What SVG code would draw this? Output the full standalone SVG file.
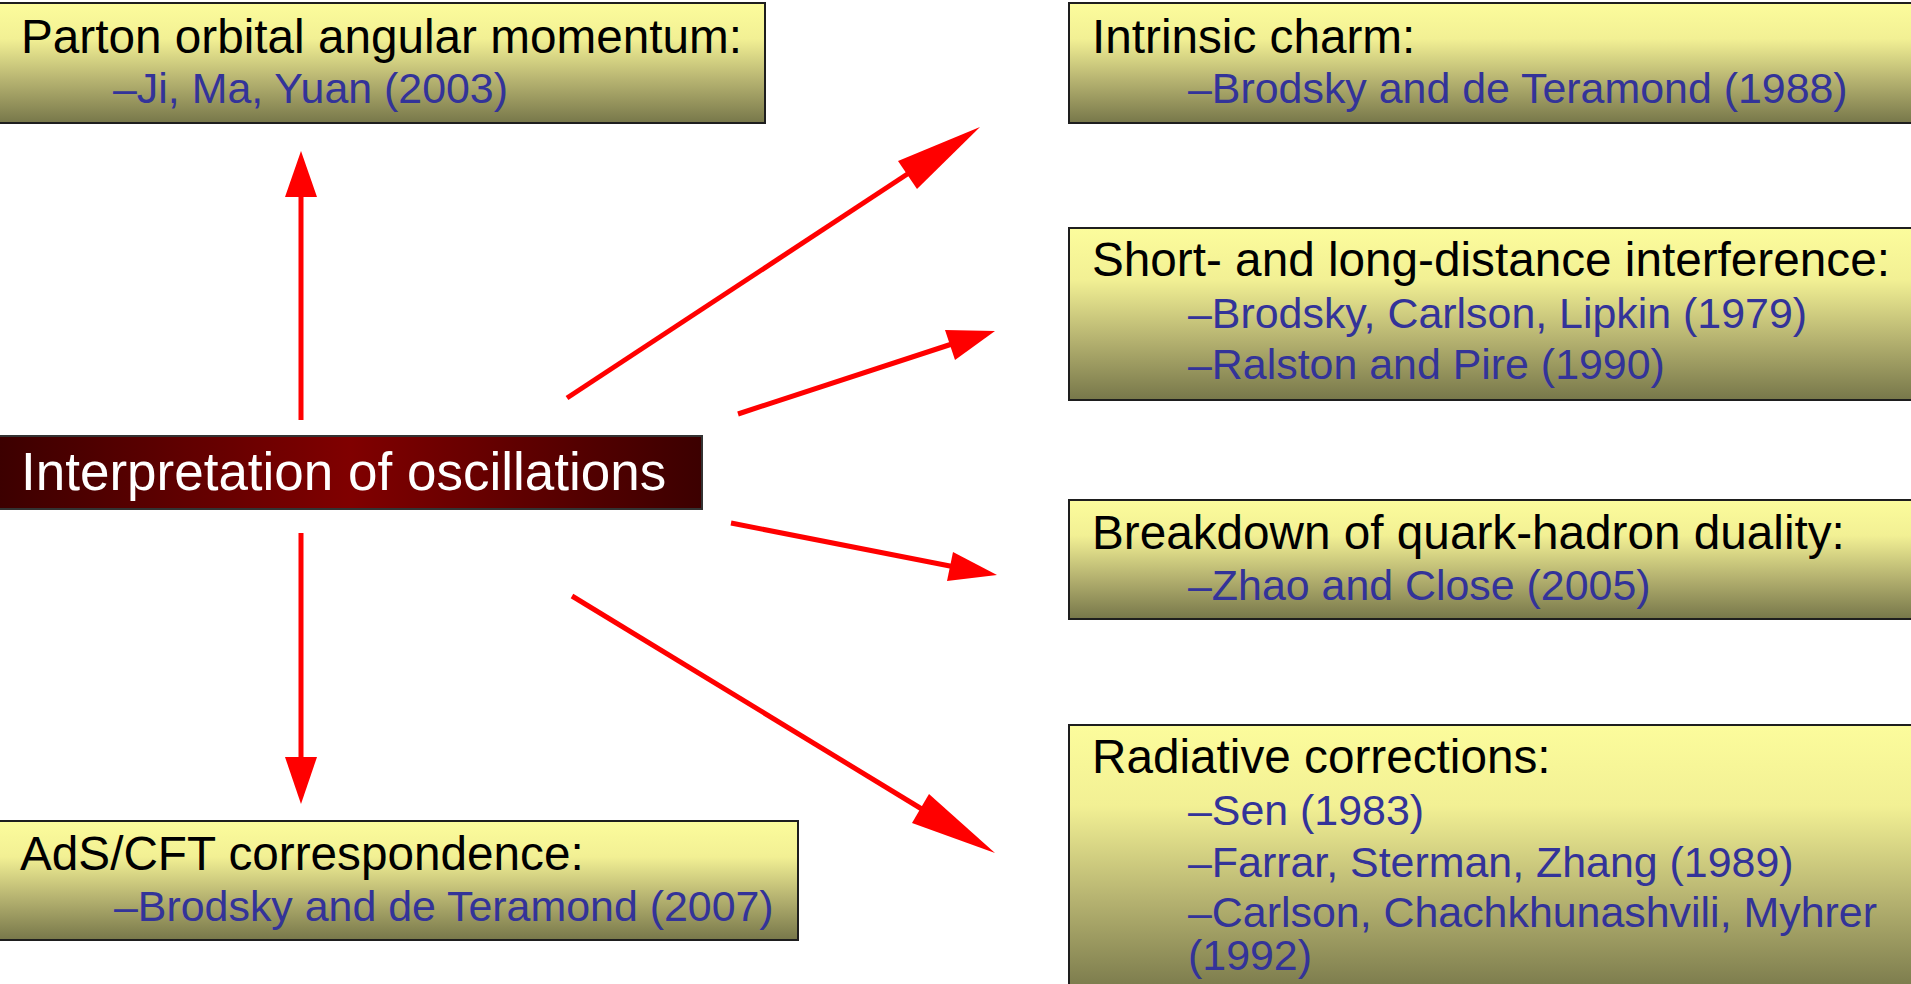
<svg xmlns="http://www.w3.org/2000/svg" width="1911" height="984" viewBox="0 0 1911 984">
<defs>
<linearGradient id="yel" x1="0" y1="0" x2="0" y2="1">
<stop offset="0" stop-color="#FCFC9C"/>
<stop offset="0.3" stop-color="#F2F094"/>
<stop offset="0.65" stop-color="#B5B270"/>
<stop offset="1" stop-color="#77774A"/>
</linearGradient>
<linearGradient id="red" x1="0" y1="0" x2="1" y2="0">
<stop offset="0" stop-color="#3C0000"/>
<stop offset="0.5" stop-color="#800000"/>
<stop offset="1" stop-color="#3C0000"/>
</linearGradient>
</defs>
<style>
.box{fill:url(#yel);stroke:#1e1e1e;stroke-width:2}
.main{fill:url(#red);stroke:#333;stroke-width:2}
.h{font-family:"Liberation Sans",Arial,sans-serif;font-size:47.7px;fill:#000}
.s{font-family:"Liberation Sans",Arial,sans-serif;font-size:42.9px;fill:#333399}
.w{font-family:"Liberation Sans",Arial,sans-serif;font-size:53px;fill:#fff}
.ln{stroke:#ff0000;stroke-width:5;fill:none}
.hd{fill:#ff0000}
</style>
<rect width="1911" height="984" fill="#fff"/>
<g id="connectors">
<line class="ln" x1="301" y1="420" x2="301" y2="192"/>
<polygon class="hd" points="301,151 317,197 285,197"/>
<line class="ln" x1="301" y1="533" x2="301" y2="762"/>
<polygon class="hd" points="301,804 317,757 285,757"/>
<line class="ln" x1="567" y1="398" x2="912" y2="171"/>
<polygon class="hd" points="980,127 917,189 898,161"/>
<line class="ln" x1="738" y1="414" x2="955" y2="343"/>
<polygon class="hd" points="995,331 955,360 945,330"/>
<line class="ln" x1="731" y1="523" x2="955" y2="567"/>
<polygon class="hd" points="997,575 947,581 953,552"/>
<line class="ln" x1="572" y1="596" x2="925" y2="811"/>
<polygon class="hd" points="995,853 912,823 929,794"/>
</g>
<g id="parton">
<rect class="box" x="-2" y="3" width="767" height="120"/>
<text class="h" x="21" y="53">Parton orbital angular momentum:</text>
<text class="s" x="113" y="103">–Ji, Ma, Yuan (2003)</text>
</g>
<g id="intrinsic">
<rect class="box" x="1069" y="3" width="850" height="120"/>
<text class="h" x="1092" y="53">Intrinsic charm:</text>
<text class="s" x="1188" y="103">–Brodsky and de Teramond (1988)</text>
</g>
<g id="shortlong">
<rect class="box" x="1069" y="228" width="850" height="172"/>
<text class="h" x="1092" y="276">Short- and long-distance interference:</text>
<text class="s" x="1188" y="328">–Brodsky, Carlson, Lipkin (1979)</text>
<text class="s" x="1188" y="379">–Ralston and Pire (1990)</text>
</g>
<g id="interpretation">
<rect class="main" x="-2" y="436" width="704" height="73"/>
<text class="w" x="21" y="490">Interpretation of oscillations</text>
</g>
<g id="breakdown">
<rect class="box" x="1069" y="500" width="850" height="119"/>
<text class="h" x="1092" y="549">Breakdown of quark-hadron duality:</text>
<text class="s" x="1188" y="600">–Zhao and Close (2005)</text>
</g>
<g id="radiative">
<rect class="box" x="1069" y="725" width="850" height="270"/>
<text class="h" x="1092" y="773">Radiative corrections:</text>
<text class="s" x="1188" y="825">–Sen (1983)</text>
<text class="s" x="1188" y="877">–Farrar, Sterman, Zhang (1989)</text>
<text class="s" x="1188" y="927">–Carlson, Chachkhunashvili, Myhrer</text>
<text class="s" x="1188" y="970">(1992)</text>
</g>
<g id="adscft">
<rect class="box" x="-2" y="821" width="800" height="119"/>
<text class="h" x="20" y="870">AdS/CFT correspondence:</text>
<text class="s" x="114" y="921">–Brodsky and de Teramond (2007)</text>
</g>
</svg>
